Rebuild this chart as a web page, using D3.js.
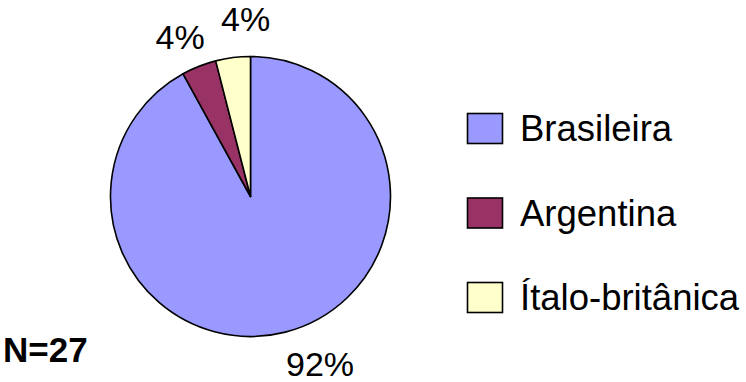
<!DOCTYPE html>
<html>
<head>
<meta charset="utf-8">
<script src="https://cdn.jsdelivr.net/npm/d3@7/dist/d3.min.js"></script>
<style>
  html, body { margin: 0; padding: 0; background: #fff; }
  svg { display: block; font-family: "Liberation Sans", Arial, sans-serif; }
</style>
</head>
<body>
<svg id="chart" width="746" height="382"></svg>
<script>
// Nacionalidade dos respondentes (N=27)
const categories = ["Brasileira", "Argentina", "Ítalo-britânica"];
const percentages = [92, 4, 4];
const colors = ["#9999FF", "#993366", "#FFFFCC"];
const sampleLabel = "N=27";

const svg = d3.select("#chart");
const cx = 250.5, cy = 196.5, radius = 140;

const pie = d3.pie().sort(null).value(d => d)
  .startAngle(0).endAngle(2 * Math.PI);
const arcs = pie(percentages);
const arc = d3.arc().innerRadius(0).outerRadius(radius);

const g = svg.append("g").attr("transform", `translate(${cx},${cy})`);

g.selectAll("path.slice")
  .data(arcs)
  .join("path")
  .attr("class", "slice")
  .attr("d", arc)
  .attr("fill", (d, i) => colors[i])
  .attr("stroke", "#000")
  .attr("stroke-width", 1.6)
  .attr("stroke-linejoin", "round");

// Percentage labels outside the pie, placed along each slice's mid angle
const labelArc = d3.arc().innerRadius(175).outerRadius(175);
const labelNudge = [[26, -2], [-6, 3], [17, -4]];
g.selectAll("text.pct")
  .data(arcs)
  .join("text")
  .attr("class", "pct")
  .attr("x", (d, i) => labelArc.centroid(d)[0] + labelNudge[i][0])
  .attr("y", (d, i) => labelArc.centroid(d)[1] + labelNudge[i][1])
  .attr("dy", "0.35em")
  .attr("text-anchor", "middle")
  .attr("font-size", 34)
  .attr("fill", "#000")
  .text(d => d.data + "%");

// Legend
const legend = svg.append("g").attr("transform", "translate(467,113)");
const yLeg = d3.scalePoint().domain(categories).range([0, 169]);
const item = legend.selectAll("g.item")
  .data(categories)
  .join("g")
  .attr("class", "item")
  .attr("transform", d => `translate(0,${yLeg(d)})`);
item.append("rect")
  .attr("x", 0.5).attr("y", 0.5)
  .attr("width", 35).attr("height", 30)
  .attr("fill", (d, i) => colors[i])
  .attr("stroke", "#000")
  .attr("stroke-width", 1.6);
item.append("text")
  .attr("x", 53)
  .attr("y", 15.5)
  .attr("dy", "0.35em")
  .attr("font-size", 36.5)
  .attr("fill", "#000")
  .text(d => d);

// Sample size
svg.append("text")
  .attr("x", 3)
  .attr("y", 362)
  .attr("font-size", 35)
  .attr("font-weight", "bold")
  .attr("fill", "#000")
  .text(sampleLabel);
</script>
</body>
</html>
